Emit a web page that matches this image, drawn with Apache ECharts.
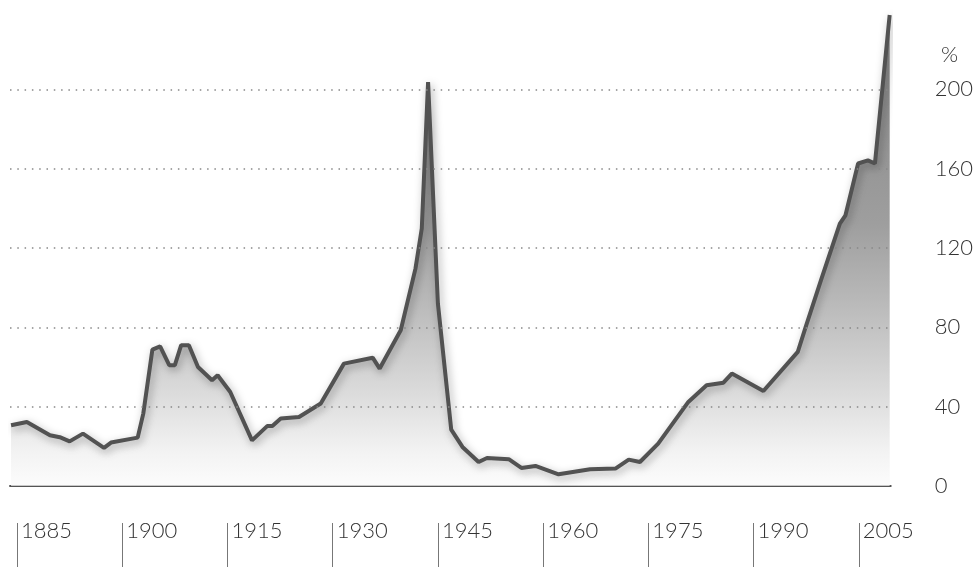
<!DOCTYPE html>
<html>
<head>
<meta charset="utf-8">
<script src="https://cdn.jsdelivr.net/npm/echarts@6/dist/echarts.min.js"></script>
<style>
  html, body { margin: 0; padding: 0; background: #fff; }
  #chart { width: 976px; height: 567px; }
</style>
</head>
<body>
<div id="chart"></div>
<script>
// years (points sit a bit after the year tick)
var years = [
  1884.15, 1886.4, 1889.7, 1891.1, 1892.5, 1894.4, 1897.4, 1898.4, 1902.2, 1903.0,
  1904.3, 1905.4, 1906.7, 1907.5, 1908.4, 1909.5, 1910.8, 1912.8, 1913.6, 1915.4,
  1918.5, 1920.7, 1921.4, 1922.6, 1925.2, 1928.3, 1931.6, 1935.7, 1936.7, 1939.7,
  1941.8, 1942.7, 1943.6, 1945.0, 1946.9, 1948.5, 1950.8, 1952.0, 1955.1, 1956.9,
  1958.9, 1962.2, 1966.7, 1970.3, 1972.2, 1973.8, 1976.4, 1980.7, 1983.3, 1985.7,
  1986.9, 1991.4, 1996.3, 1997.5, 1999.6, 2002.3, 2003.1, 2004.9, 2006.3, 2007.3,
  2009.4
]
var values = [
  30.6, 32.3, 25.6, 24.6, 22.5, 26.4, 19.2, 21.9, 24.4, 36.5,
  68.8, 70.4, 60.9, 60.9, 71, 71, 60, 53.3, 55.8, 47.4,
  23, 30.3, 30.3, 34, 34.8, 41.6, 61.7, 64.7, 59.2, 78.5,
  109.6, 129.8, 203.7, 92, 28.4, 19.7, 12.1, 14.1, 13.5, 9.1,
  10.1, 5.9, 8.4, 8.8, 13.3, 12.1, 21.4, 42.4, 50.8, 52.1,
  56.7, 47.9, 67.6, 81, 103.7, 132.3, 136.5, 162.6, 164.2, 162.6,
  237.5
]
var xTicks = [1885, 1900, 1915, 1930, 1945, 1960, 1975, 1990, 2005]
var yTicks = [0, 40, 80, 120, 160, 200]
var gridValues = [40, 80, 120, 160, 200]

var font = 'Lato, "Open Sans", sans-serif'

var chart = echarts.init(document.getElementById('chart'))

var seriesData = years.map(function(y, i) {
  return [y, values[i]]
})

chart.setOption({
  animation: false,
  title: {
    text: '%',
    left: 936,
    top: 39,
    textStyle: { fontFamily: font, fontSize: 22, fontWeight: 300, color: '#333' }
  },
  grid: {
    left: 10,
    right: 83,
    top: 10,
    bottom: 81
  },
  xAxis: [{
    type: 'value',
    min: 1884,
    max: 2009.55,
    axisLine: { show: true, lineStyle: { color: '#555', width: 2 } },
    axisTick: { show: false },
    axisLabel: { show: false },
    splitLine: { show: false }
  }, {
    // lower axis only for the long year ticks and labels
    type: 'value',
    position: 'bottom',
    offset: 37,
    min: 1884,
    max: 2009.55,
    axisLine: { show: false },
    axisTick: {
      show: true,
      customValues: xTicks,
      length: 50,
      lineStyle: { color: '#777', width: 1 }
    },
    axisLabel: {
      customValues: xTicks,
      formatter: function(v) { return String(v) },
      align: 'left',
      margin: -3,
      padding: [0, 0, 0, 4],
      fontFamily: font,
      fontSize: 22,
      fontWeight: 300,
      color: '#333'
    },
    splitLine: { show: false }
  }],
  yAxis: {
    type: 'value',
    position: 'right',
    min: 0,
    max: 240,
    axisLine: { show: false },
    axisTick: { show: false },
    axisLabel: {
      customValues: yTicks,
      align: 'left',
      margin: 44,
      fontFamily: font,
      fontSize: 22,
      fontWeight: 300,
      color: '#333'
    },
    splitLine: { show: false }
  },
  series: [{
    type: 'line',
    data: seriesData,
    symbol: 'none',
    lineStyle: {
      color: '#525252',
      width: 4,
      shadowColor: 'rgba(0,0,0,0.35)',
      shadowBlur: 8,
      shadowOffsetX: 2,
      shadowOffsetY: 3
    },
    areaStyle: {
      color: new echarts.graphic.LinearGradient(0, 10, 0, 486, [
        { offset: 0, color: '#4d4d4d' },
        { offset: 0.45, color: '#747474' },
        { offset: 0.6, color: '#979797' },
        { offset: 0.8, color: '#cacaca' },
        { offset: 0.93, color: '#ededed' },
        { offset: 1, color: '#fafafa' }
      ], true)
    },
    markLine: {
      silent: true,
      symbol: 'none',
      label: { show: false },
      lineStyle: { color: '#888', width: 1.5, type: [1.5, 5.8] },
      data: gridValues.map(function(v) { return { yAxis: v } })
    }
  }]
})
</script>
</body>
</html>
